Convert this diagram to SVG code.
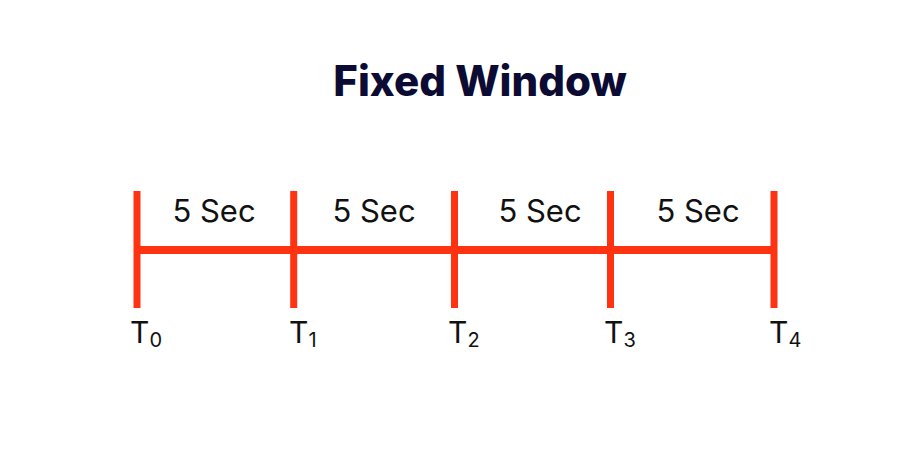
<svg xmlns="http://www.w3.org/2000/svg" width="901" height="450" viewBox="0 0 901 450">
<style>
.tick{stroke:#ff3311;stroke-width:7;fill:none}
.axis{stroke:#ff3311;stroke-width:8;fill:none}
.lbl{font-family:Inter,"Liberation Sans",sans-serif;font-size:31px;fill:#111;text-anchor:middle}
.t{font-family:Inter,"Liberation Sans",sans-serif;font-size:30px;fill:#111}
.sub{font-size:20px}
.title{font-family:Inter,"Liberation Sans",sans-serif;font-weight:800;font-size:42px;fill:#0b0b33;text-anchor:middle}
</style>
<rect width="901" height="450" fill="#fff"/>
<text class="title" x="480" y="96">Fixed Window</text>
<g id="connectors">
<line class="axis" x1="137" y1="250" x2="774" y2="250"/>
</g>
<g id="t0"><line class="tick" x1="137" y1="191" x2="137" y2="308"/><text class="t" x="130" y="343">T<tspan class="sub" dy="4">0</tspan></text></g>
<g id="t1"><line class="tick" x1="293.7" y1="191" x2="293.7" y2="308"/><text class="t" x="289" y="343">T<tspan class="sub" dy="4">1</tspan></text></g>
<g id="t2"><line class="tick" x1="454.5" y1="191" x2="454.5" y2="308"/><text class="t" x="448" y="343">T<tspan class="sub" dy="4">2</tspan></text></g>
<g id="t3"><line class="tick" x1="610.5" y1="191" x2="610.5" y2="308"/><text class="t" x="604" y="343">T<tspan class="sub" dy="4">3</tspan></text></g>
<g id="t4"><line class="tick" x1="774" y1="191" x2="774" y2="308"/><text class="t" x="769" y="343">T<tspan class="sub" dy="4">4</tspan></text></g>
<g id="w1"><text class="lbl" x="214" y="222">5 Sec</text></g>
<g id="w2"><text class="lbl" x="374" y="222">5 Sec</text></g>
<g id="w3"><text class="lbl" x="540" y="222">5 Sec</text></g>
<g id="w4"><text class="lbl" x="698" y="222">5 Sec</text></g>
</svg>
